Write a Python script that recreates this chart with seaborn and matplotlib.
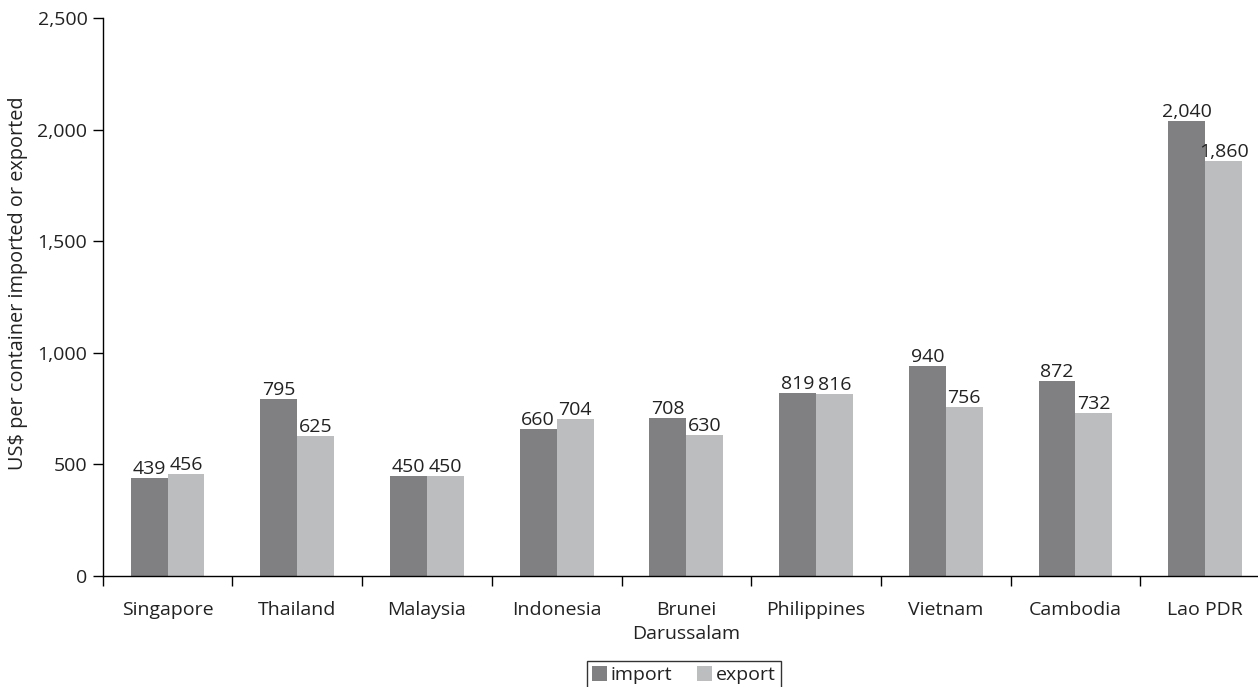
import matplotlib
matplotlib.use("Agg")
import matplotlib.pyplot as plt
import seaborn as sns
import pandas as pd
import numpy as np
from matplotlib.ticker import FuncFormatter, FixedLocator, NullFormatter

countries = ["Singapore", "Thailand", "Malaysia", "Indonesia", "Brunei\nDarussalam",
             "Philippines", "Vietnam", "Cambodia", "Lao PDR"]
import_vals = [439, 795, 450, 660, 708, 819, 940, 872, 2040]
export_vals = [456, 625, 450, 704, 630, 816, 756, 732, 1860]
series = ["import", "export"]
colors = ["#808082", "#bcbdbf"]
y_ticks = [0, 500, 1000, 1500, 2000, 2500]

df = pd.DataFrame({
    "country": countries * 2,
    "value": import_vals + export_vals,
    "series": [series[0]] * len(countries) + [series[1]] * len(countries),
})

sns.set_theme(style="white")
plt.rcParams["font.family"] = ["Open Sans", "DejaVu Sans"]

fig = plt.figure(figsize=(12.58, 6.87), dpi=100)
ax = fig.add_axes([0.0816, 0.1616, 0.9184, 0.8122])

sns.barplot(data=df, x="country", y="value", hue="series", order=countries,
            hue_order=series, palette=colors, width=0.57, saturation=1,
            ax=ax, legend=True, errorbar=None, linewidth=0, edgecolor="none")

for cont in ax.containers:
    ax.bar_label(cont, labels=[f"{v:,.0f}" for v in cont.datavalues],
                 fontsize=14, padding=0, color="#222222")

ax.set_xlim(-0.5, 8.407)
ax.set_ylim(0, 2500)
ax.set_yticks(y_ticks)
ax.yaxis.set_major_formatter(FuncFormatter(lambda v, p: f"{v:,.0f}"))
ax.set_xlabel("")
ax.set_ylabel("US$ per container imported or exported", fontsize=14.3, color="#222222")
ax.yaxis.set_label_coords(-0.0647, 0.525)

ax.xaxis.set_minor_locator(FixedLocator(np.arange(-0.5, 9.0, 1.0)))
ax.xaxis.set_minor_formatter(NullFormatter())
ax.tick_params(axis="x", which="major", length=0, pad=18, labelsize=14, labelcolor="#222222")
for lbl in ax.get_xticklabels():
    lbl.set_linespacing(1.45)
ax.tick_params(axis="x", which="minor", length=7, width=1, direction="out", color="black", bottom=True)
ax.tick_params(axis="y", which="major", length=7, width=1, direction="out", color="black",
               left=True, labelsize=14, labelcolor="#222222", pad=4)

for s in ["top", "right"]:
    ax.spines[s].set_visible(False)
for s in ["left", "bottom"]:
    ax.spines[s].set_color("black")
    ax.spines[s].set_linewidth(1)

leg = ax.legend(loc="lower center", bbox_to_anchor=(0.5437, -0.003), bbox_transform=fig.transFigure,
                ncol=2, frameon=True, fancybox=False, fontsize=14, handlelength=0.75,
                handleheight=0.75, handletextpad=0.2, columnspacing=1.3, borderpad=0.25,
                borderaxespad=0)
leg.get_frame().set_edgecolor("black")
leg.get_frame().set_linewidth(1)
for t in leg.get_texts():
    t.set_color("#222222")

fig.savefig("out.png", dpi=100)
